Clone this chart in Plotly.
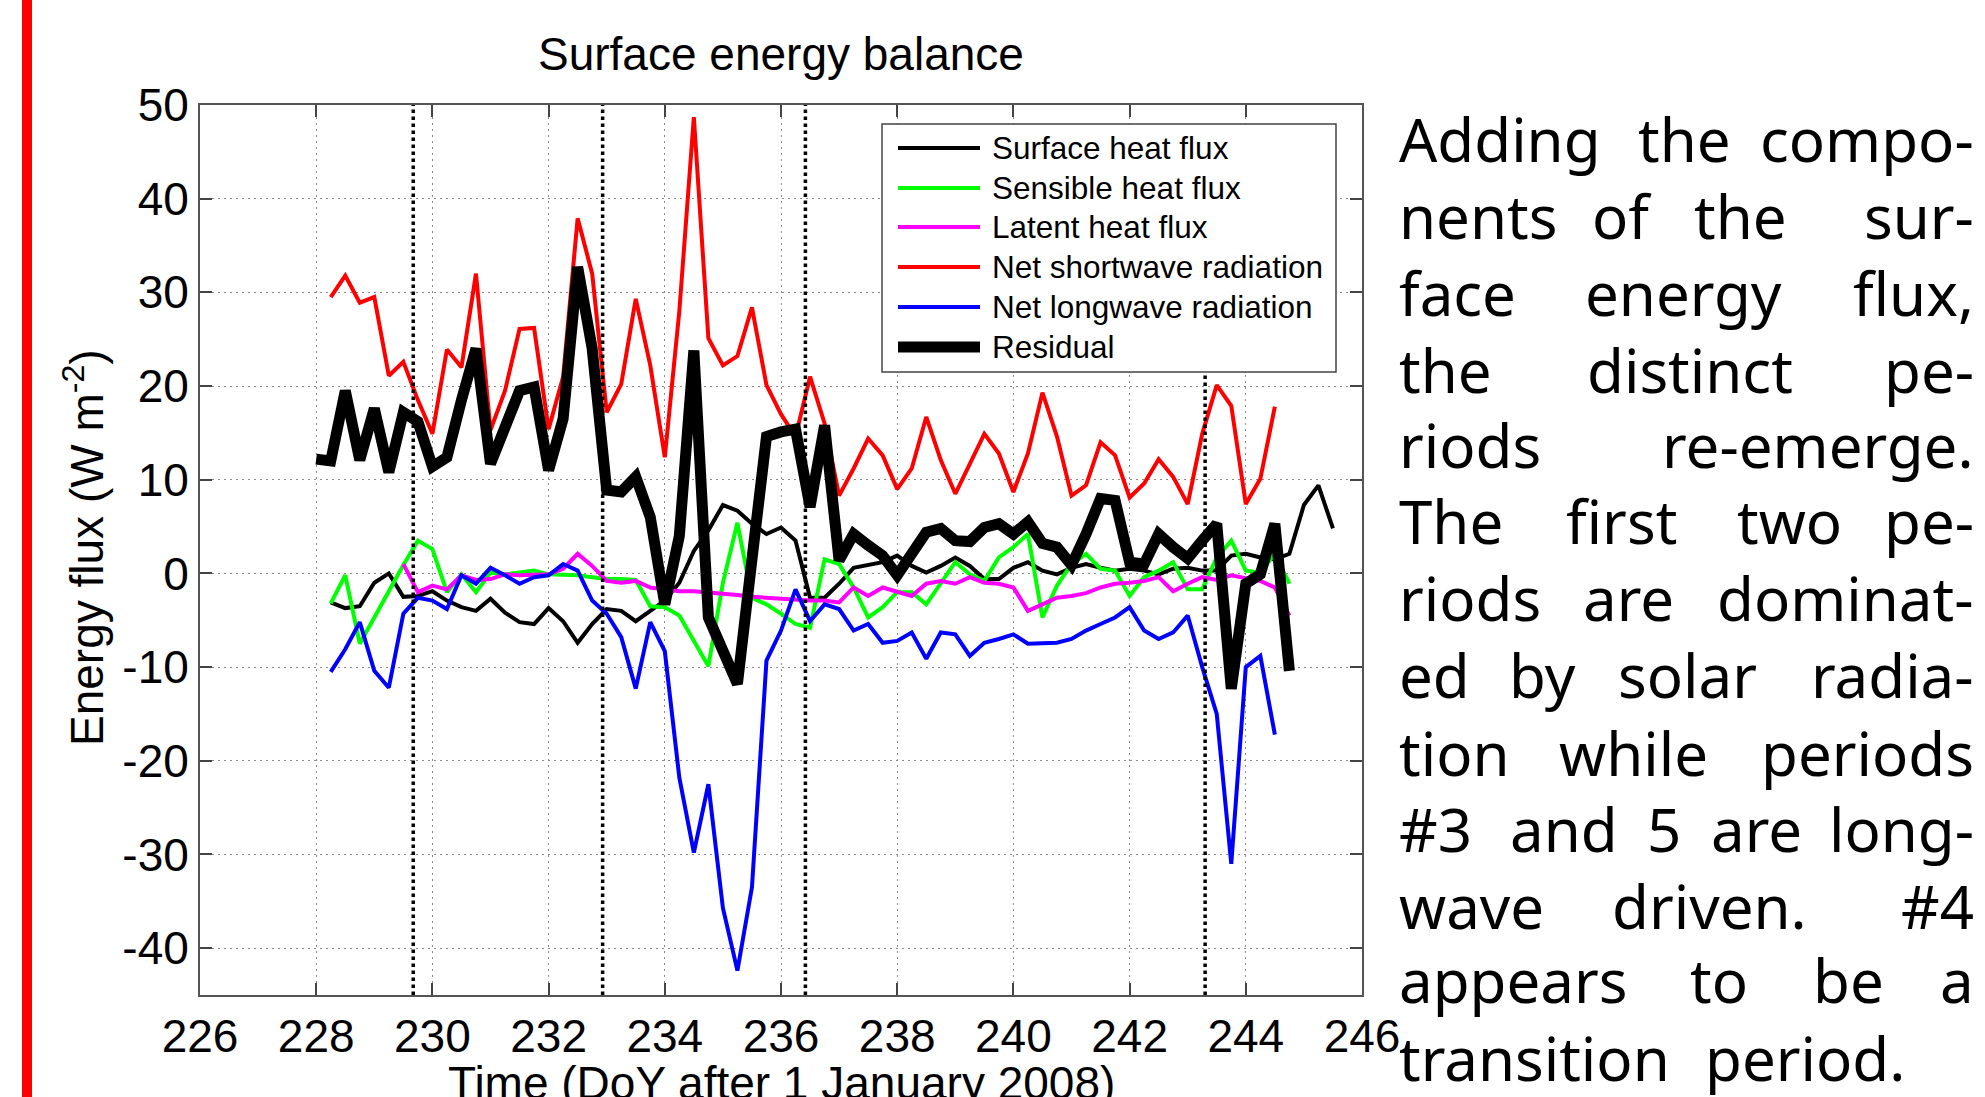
import plotly.graph_objects as go

# ---------------- data ----------------
TIME = [228.0, 228.25, 228.5, 228.75, 229.0, 229.25, 229.5, 229.75,
        230.0, 230.25, 230.5, 230.75, 231.0, 231.25, 231.5, 231.75,
        232.0, 232.25, 232.5, 232.75, 233.0, 233.25, 233.5, 233.75,
        234.0, 234.25, 234.5, 234.75, 235.0, 235.25, 235.5, 235.75,
        236.0, 236.25, 236.5, 236.75, 237.0, 237.25, 237.5, 237.75,
        238.0, 238.25, 238.5, 238.75, 239.0, 239.25, 239.5, 239.75,
        240.0, 240.25, 240.5, 240.75, 241.0, 241.25, 241.5, 241.75,
        242.0, 242.25, 242.5, 242.75, 243.0, 243.25, 243.5, 243.75,
        244.0, 244.25, 244.5, 244.75, 245.0, 245.25, 245.5]

SURFACE_START = 228.25
SURFACE = [-3.1, -3.7, -3.5, -1.0, 0.0, -2.5, -2.4, -1.9, -2.9, -3.6, -4.0, -2.7,
           -4.2, -5.2, -5.4, -3.7, -5.1, -7.4, -5.4, -3.8, -4.0, -5.1, -4.0, -2.9,
           -1.0, 2.4, 4.6, 7.3, 6.7, 5.3, 4.2, 4.9, 3.5, -2.6, -2.6, -1.1,
           0.6, 0.9, 1.2, 1.9, 0.8, 0.1, 0.8, 1.7, 0.8, -0.6, -0.6, 0.6,
           1.2, 0.3, -0.1, 0.6, 1.0, 0.6, 0.3, 0.5, 0.3, -0.1, 0.5, 0.6,
           0.3, 0.3, 1.9, 2.1, 1.7, 1.5, 2.1, 7.3, 9.4, 4.8]

SENSIBLE_START = 228.25
SENSIBLE = [-3.2, -0.2, -7.5, -4.8, -1.9, 0.9, 3.5, 2.6, -2.0, -0.1, -2.0, 0.1,
            -0.1, 0.1, 0.3, -0.1, -0.1, -0.2, -0.4, -0.6, -0.6, -0.7, -3.5, -3.6,
            -4.5, -7.2, -9.9, -1.0, 5.4, -2.6, -3.3, -4.3, -5.4, -5.8, 1.5, 1.0,
            -1.5, -4.7, -3.6, -2.0, -2.0, -3.3, -1.0, 1.2, -0.1, -0.8, 1.7, 2.8,
            4.2, -4.7, -1.3, 1.0, 2.1, 0.5, 0.3, -2.4, -0.4, 0.3, 1.2, -1.7,
            -1.7, 1.7, 3.5, 0.3, 0.1, 2.1, -1.1]

LATENT_START = 229.5
LATENT = [1.0, -2.0, -1.3, -1.7, -0.2, -0.7, -0.6, -0.1, -0.2, -0.2, -0.1, 0.5,
          2.1, 0.8, -0.8, -1.0, -0.8, -1.5, -1.7, -1.9, -1.9, -2.0, -2.2, -2.3,
          -2.5, -2.6, -2.7, -2.9, -2.9, -2.9, -3.1, -1.5, -2.4, -1.5, -2.0, -2.4,
          -1.1, -0.8, -1.1, -0.4, -1.0, -1.1, -1.5, -4.0, -3.3, -2.6, -2.4, -2.1,
          -1.5, -1.1, -1.0, -0.8, -0.4, -1.9, -1.1, -0.4, -0.7, -0.2, -0.5, -0.8,
          -1.5, -4.5]

SHORTWAVE_START = 228.25
SHORTWAVE = [29.5, 31.8, 28.9, 29.5, 21.1, 22.6, 18.5, 14.9, 23.9, 22.0, 32.0, 15.3,
             19.5, 26.1, 26.2, 15.4, 21.0, 37.9, 32.0, 17.2, 20.2, 29.3, 22.2, 12.4,
             28.0, 48.7, 25.1, 22.2, 23.2, 28.4, 20.1, 17.0, 14.6, 21.0, 16.0, 8.3,
             11.2, 14.4, 12.6, 9.0, 11.2, 16.7, 12.1, 8.5, 11.7, 14.9, 12.8, 8.7,
             12.8, 19.3, 14.6, 8.3, 9.4, 14.0, 12.6, 8.1, 9.6, 12.2, 10.3, 7.4,
             14.9, 20.1, 17.9, 7.4, 10.1, 17.8]

LONGWAVE_START = 228.25
LONGWAVE = [-10.5, -8.1, -5.2, -10.4, -12.2, -4.3, -2.6, -2.9, -3.8, -0.2, -1.1, 0.6,
            -0.2, -1.1, -0.4, -0.2, 1.0, 0.3, -2.9, -4.3, -6.8, -12.3, -5.2, -8.3,
            -21.8, -29.8, -22.5, -35.7, -42.4, -33.5, -9.3, -6.1, -1.7, -5.1, -3.3, -3.8,
            -6.1, -5.4, -7.4, -7.2, -6.3, -9.1, -6.3, -6.5, -8.8, -7.4, -7.0, -6.5,
            -7.5, -7.5, -7.4, -7.0, -6.1, -5.4, -4.7, -3.6, -6.1, -7.0, -6.3, -4.5,
            -10.0, -15.0, -31.0, -10.0, -8.8, -17.2]

RESIDUAL_START = 228.0
RESIDUAL = [12.2, 12.0, 19.5, 12.1, 17.6, 10.8, 17.2, 16.2, 11.4, 12.4, 18.5, 24.0,
            11.7, 15.6, 19.5, 19.9, 11.0, 16.5, 32.7, 24.0, 8.9, 8.7, 10.3, 6.0,
            -3.3, 4.0, 23.8, -4.7, -8.6, -11.8, 1.5, 14.6, 15.1, 15.4, 7.1, 15.8,
            1.4, 4.2, 3.0, 1.9, -0.2, 2.1, 4.4, 4.8, 3.5, 3.4, 4.9, 5.3,
            4.2, 5.5, 3.2, 2.8, 0.9, 4.2, 8.0, 7.8, 1.2, 1.0, 4.2, 2.8,
            1.6, 3.5, 5.3, -12.3, -1.1, -0.1, 5.3, -10.4]

SERIES_NAMES = ["Surface heat flux", "Sensible heat flux", "Latent heat flux",
                "Net shortwave radiation", "Net longwave radiation", "Residual"]
SERIES_VALUES = [SURFACE, SENSIBLE, LATENT, SHORTWAVE, LONGWAVE, RESIDUAL]
SERIES_STARTS = [SURFACE_START, SENSIBLE_START, LATENT_START,
                 SHORTWAVE_START, LONGWAVE_START, RESIDUAL_START]

PERIOD_BOUNDS = [229.67, 232.93, 236.42, 243.30]

X_TICKS = [226, 228, 230, 232, 234, 236, 238, 240, 242, 244, 246]
X_TICK_LABELS = ["226", "228", "230", "232", "234", "236", "238", "240", "242", "244", "246"]
Y_TICKS = [-40, -30, -20, -10, 0, 10, 20, 30, 40, 50]
Y_TICK_LABELS = ["-40", "-30", "-20", "-10", "0", "10", "20", "30", "40", "50"]

TITLE = "Surface energy balance"
X_TITLE = "Time (DoY after 1 January 2008)"
Y_TITLE = "Energy flux (W m<sup>-2</sup>)"

PARAGRAPH = ["Adding the compo-", "nents of the sur-", "face energy flux,",
             "the distinct pe-", "riods re-emerge.", "The first two pe-",
             "riods are dominat-", "ed by solar radia-", "tion while periods",
             "#3 and 5 are long-", "wave driven. #4", "appears to be a",
             "transition period."]

# ---------------- styles / layout ----------------
COLORS = ["#000000", "#00ff00", "#ff00ff", "#ff0000", "#0000ff", "#000000"]
WIDTHS = [4, 4, 4, 4, 4, 11]

W, H = 1985, 1097
PL, PR, PT, PB = 200, 1362, 105, 995
FONT = "Liberation Sans, Arial, Helvetica, sans-serif"
PFONT = "Noto Sans, DejaVu Sans, sans-serif"


def px(xpix):
    return (xpix - PL) / (PR - PL)


def py(ypix):
    return (PB - ypix) / (PB - PT)


fig = go.Figure()

for name, vals, start, col, wid in zip(SERIES_NAMES, SERIES_VALUES, SERIES_STARTS,
                                       COLORS, WIDTHS):
    i0 = TIME.index(start)
    fig.add_trace(go.Scatter(x=TIME[i0:i0 + len(vals)], y=vals, mode="lines",
                             name=name, showlegend=False,
                             line=dict(color=col, width=wid)))

LEG_L, LEG_R, LEG_T, LEG_B = 882, 1336, 124, 372
XD0, XD1 = 226, 246

shapes = []
for xb in PERIOD_BOUNDS:
    xpix = PL + (xb - XD0) / (XD1 - XD0) * (PR - PL)
    top = py(LEG_B) if LEG_L <= xpix <= LEG_R else 1
    shapes.append(dict(type="line", xref="x", yref="paper", x0=xb, x1=xb, y0=0, y1=top,
                       line=dict(color="black", width=3.5, dash="dot"), layer="above"))

# legend box (drawn manually to match the long line samples)
shapes.append(dict(type="rect", xref="paper", yref="paper",
                   x0=px(LEG_L), x1=px(LEG_R), y0=py(LEG_B), y1=py(LEG_T),
                   fillcolor="white", line=dict(color="#444444", width=1.5),
                   layer="above"))
ROW_Y = [148, 188, 227, 267, 307, 347]
annotations = []
for name, col, wid, ry in zip(SERIES_NAMES, COLORS, WIDTHS, ROW_Y):
    shapes.append(dict(type="line", xref="paper", yref="paper",
                       x0=px(898), x1=px(980), y0=py(ry), y1=py(ry),
                       line=dict(color=col, width=wid), layer="above"))
    annotations.append(dict(text=name, xref="paper", yref="paper",
                            x=px(990), y=py(ry), xanchor="left", yanchor="middle",
                            showarrow=False, font=dict(family=FONT, size=31.5, color="black")))

# red bar at the left of the slide
shapes.append(dict(type="rect", xref="paper", yref="paper",
                   x0=px(22), x1=px(32), y0=py(H), y1=py(0),
                   fillcolor="#ff0000", line=dict(width=0), layer="above"))

# titles
annotations.append(dict(text=TITLE, xref="paper", yref="paper", x=0.5, y=py(54),
                        xanchor="center", yanchor="middle", showarrow=False,
                        font=dict(family=FONT, size=46, color="black")))
annotations.append(dict(text=X_TITLE, xref="paper", yref="paper", x=0.5, y=py(1083),
                        xanchor="center", yanchor="middle", showarrow=False,
                        font=dict(family=FONT, size=46, color="black")))
annotations.append(dict(text=Y_TITLE, xref="paper", yref="paper", x=px(84), y=py(548),
                        xanchor="center", yanchor="middle", textangle=-90, showarrow=False,
                        font=dict(family=FONT, size=46, color="black")))

# justified paragraph: word extents measured from the slide
WORD_SPANS = [
    [(1397, 1599), (1635, 1734), (1768, 1976)],
    [(1397, 1554), (1592, 1651), (1691, 1789), (1858, 1976)],
    [(1397, 1526), (1585, 1782), (1841, 1976)],
    [(1397, 1494), (1577, 1803), (1890, 1976)],
    [(1397, 1540), (1653, 1976)],
    [(1397, 1502), (1554, 1689), (1737, 1841), (1883, 1976)],
    [(1397, 1540), (1582, 1675), (1720, 1976)],
    [(1397, 1462), (1509, 1575), (1616, 1758), (1803, 1976)],
    [(1397, 1506), (1561, 1706), (1762, 1976)],
    [(1397, 1481), (1514, 1613), (1646, 1681), (1710, 1803), (1838, 1976)],
    [(1397, 1533), (1613, 1806), (1886, 1976)],
    [(1397, 1620), (1689, 1748), (1813, 1883), (1945, 1976)],
    [(1397, 1682), (1703, 1903)],
]
BASELINES = [164, 241, 318, 395, 470, 546, 623, 700, 778, 854, 931, 1005, 1083]
PSIZE = 60
for li, (line, spans, base) in enumerate(zip(PARAGRAPH, WORD_SPANS, BASELINES)):
    words = line.split()
    last_line = li == len(PARAGRAPH) - 1
    for wi, (word, (l, r)) in enumerate(zip(words, spans)):
        if wi == 0 or last_line:
            xa, xp = "left", l
        elif wi == len(words) - 1:
            xa, xp = "right", r
        else:
            xa, xp = "center", (l + r) / 2
        annotations.append(dict(text=word, xref="paper", yref="paper",
                                x=px(xp), y=py(base - 25),
                                xanchor=xa, yanchor="middle", showarrow=False,
                                font=dict(family=PFONT, size=PSIZE, color="black")))

axis_common = dict(showline=True, linecolor="#555555", linewidth=2, mirror="ticks",
                   ticks="inside", ticklen=12, tickwidth=1.5, tickcolor="#444444",
                   showgrid=True, gridcolor="#8a8a8a", gridwidth=1.3, griddash="2px,4px",
                   zeroline=False,
                   tickfont=dict(family=FONT, size=46, color="black"))

fig.update_layout(
    width=W, height=H,
    margin=dict(l=PL, r=W - PR, t=PT, b=H - PB, pad=0),
    paper_bgcolor="white", plot_bgcolor="white",
    showlegend=False,
    xaxis=dict(range=[XD0, XD1], tickvals=X_TICKS, ticktext=X_TICK_LABELS, **axis_common),
    yaxis=dict(range=[-45, 50], tickvals=Y_TICKS, ticktext=Y_TICK_LABELS, **axis_common),
    shapes=shapes, annotations=annotations,
)

fig.write_html("out.html", config={"displayModeBar": False},
               post_script="document.body.style.margin='0px';document.body.style.padding='0px';")
